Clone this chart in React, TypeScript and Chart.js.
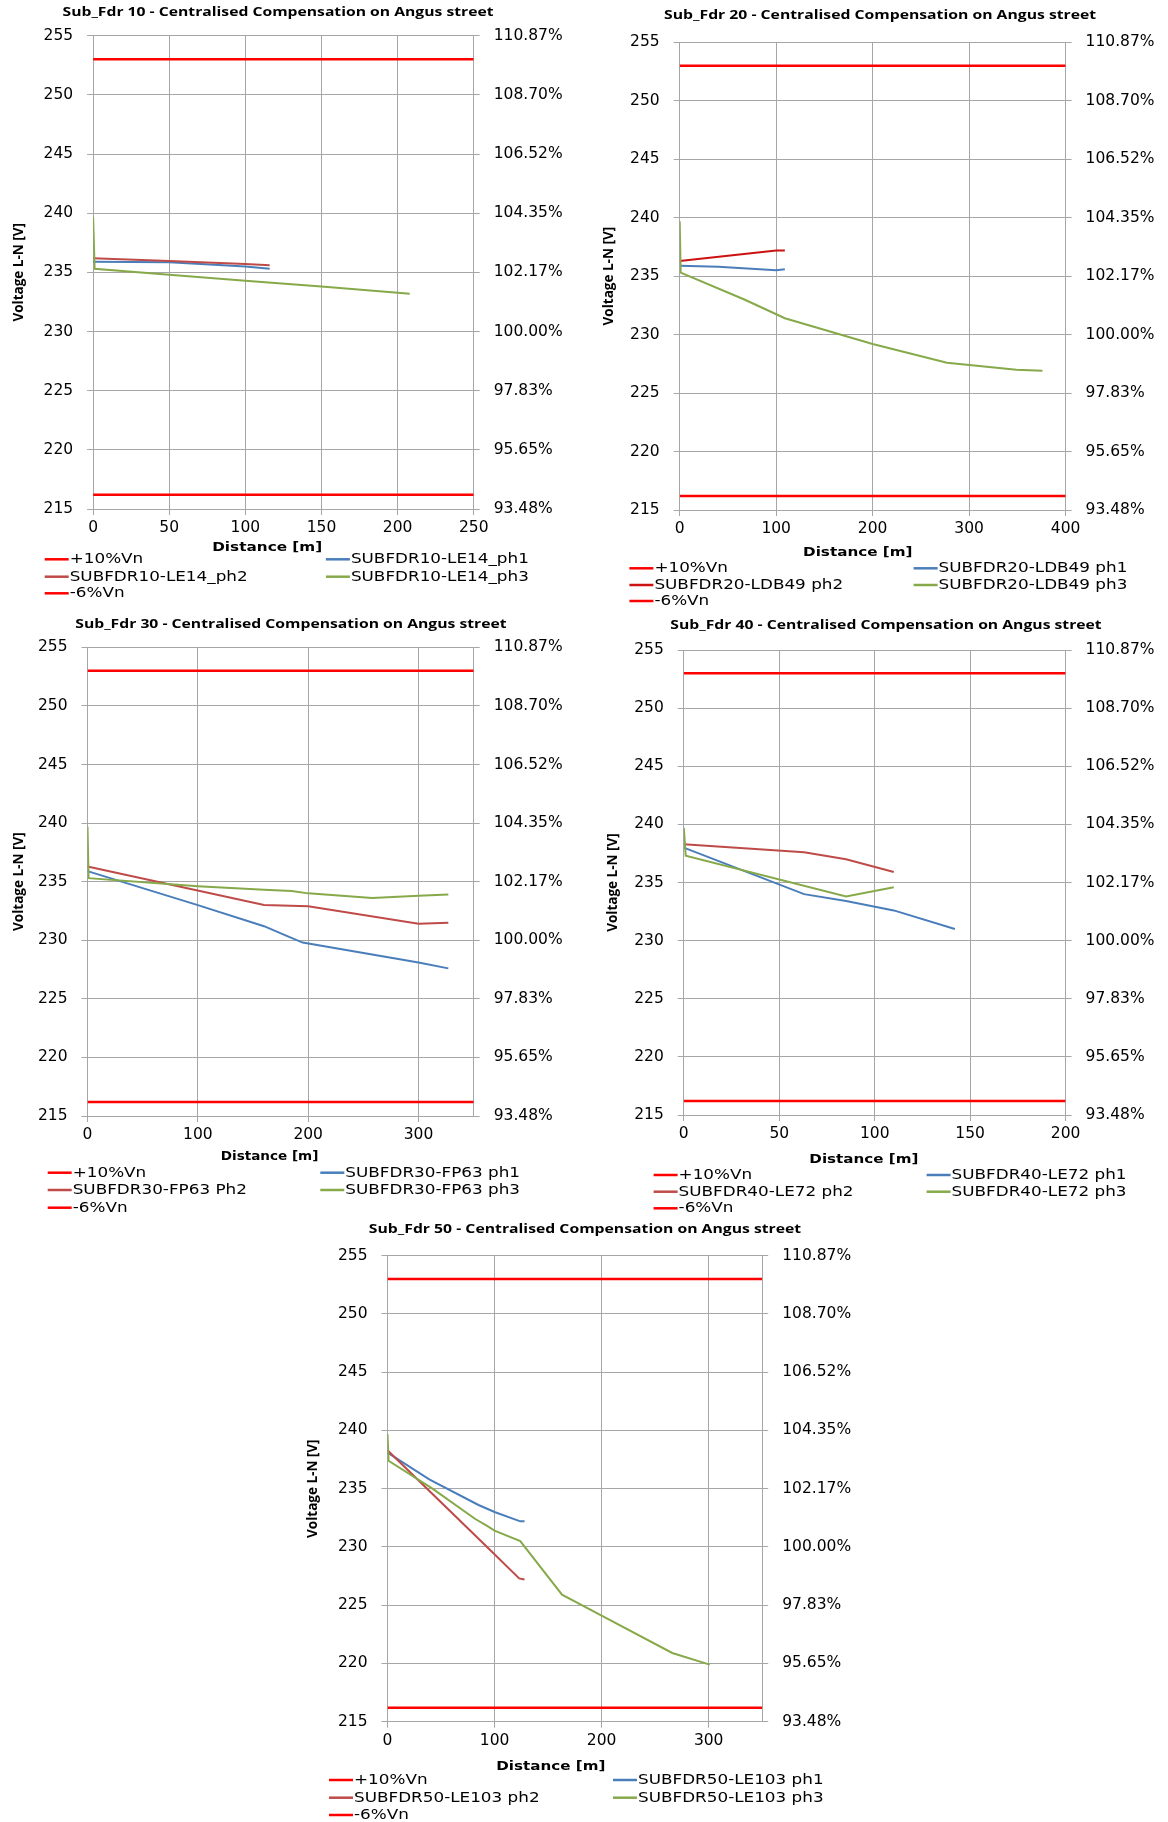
import React, { useEffect, useRef } from "react";
import { Chart, registerables } from "chart.js";

Chart.register(...registerables);

// ---------- common values ----------
const VN = 230;
const UPPER_LIMIT = 253; // +10% Vn
const LOWER_LIMIT = 216.2; // -6% Vn
const Y_MIN = 215;
const Y_MAX = 255;
const Y_STEP = 5;

// ---------- Sub_Fdr 10 ----------
const F10_TITLE = "Sub_Fdr 10 - Centralised Compensation on Angus street";
const F10_NAMES = ["SUBFDR10-LE14_ph1", "SUBFDR10-LE14_ph2", "SUBFDR10-LE14_ph3"];
const F10_X_MAX = 250;
const F10_X_STEP = 50;
const F10_PH1_D = [0, 50, 100, 116];
const F10_PH1_V = [235.9, 235.85, 235.5, 235.3];
const F10_PH2_D = [0, 50, 100, 116];
const F10_PH2_V = [236.2, 235.95, 235.7, 235.6];
const F10_PH3_D = [0, 1, 50, 100, 150, 208];
const F10_PH3_V = [239.7, 235.3, 234.8, 234.3, 233.8, 233.2];

// ---------- Sub_Fdr 20 ----------
const F20_TITLE = "Sub_Fdr 20 - Centralised Compensation on Angus street";
const F20_NAMES = ["SUBFDR20-LDB49 ph1", "SUBFDR20-LDB49 ph2", "SUBFDR20-LDB49 ph3"];
const F20_X_MAX = 400;
const F20_X_STEP = 100;
const F20_PH1_D = [0, 40, 100, 109];
const F20_PH1_V = [235.9, 235.8, 235.5, 235.6];
const F20_PH2_D = [0, 100, 109];
const F20_PH2_V = [236.3, 237.2, 237.2];
const F20_PH3_D = [0, 1, 67, 109, 200, 277, 349, 376];
const F20_PH3_V = [239.7, 235.3, 233.0, 231.4, 229.2, 227.6, 227.0, 226.9];

// ---------- Sub_Fdr 30 ----------
const F30_TITLE = "Sub_Fdr 30 - Centralised Compensation on Angus street";
const F30_NAMES = ["SUBFDR30-FP63 ph1", "SUBFDR30-FP63 Ph2", "SUBFDR30-FP63 ph3"];
const F30_X_MAX = 350;
const F30_X_STEP = 100;
const F30_PH1_D = [0, 100, 160, 180, 195, 300, 327];
const F30_PH1_V = [235.9, 233.0, 231.2, 230.4, 229.8, 228.1, 227.6];
const F30_PH2_D = [0, 160, 200, 300, 327];
const F30_PH2_V = [236.3, 233.0, 232.9, 231.4, 231.5];
const F30_PH3_D = [0, 1, 100, 160, 185, 200, 258, 300, 327];
const F30_PH3_V = [239.7, 235.3, 234.6, 234.3, 234.2, 234.0, 233.6, 233.8, 233.9];

// ---------- Sub_Fdr 40 ----------
const F40_TITLE = "Sub_Fdr 40 - Centralised Compensation on Angus street";
const F40_NAMES = ["SUBFDR40-LE72 ph1", "SUBFDR40-LE72 ph2", "SUBFDR40-LE72 ph3"];
const F40_X_MAX = 200;
const F40_X_STEP = 50;
const F40_PH1_D = [0, 63, 85, 110, 142];
const F40_PH1_V = [238.0, 234.0, 233.4, 232.6, 231.0];
const F40_PH2_D = [0, 63, 85, 110];
const F40_PH2_V = [238.3, 237.6, 237.0, 235.9];
const F40_PH3_D = [0, 1, 85, 110];
const F40_PH3_V = [239.7, 237.3, 233.8, 234.6];

// ---------- Sub_Fdr 50 ----------
const F50_TITLE = "Sub_Fdr 50 - Centralised Compensation on Angus street";
const F50_NAMES = ["SUBFDR50-LE103 ph1", "SUBFDR50-LE103 ph2", "SUBFDR50-LE103 ph3"];
const F50_X_MAX = 350;
const F50_X_STEP = 100;
const F50_PH1_D = [0, 39, 85, 100, 124, 128];
const F50_PH1_V = [238.1, 235.8, 233.6, 233.0, 232.2, 232.2];
const F50_PH2_D = [0, 93, 123, 128];
const F50_PH2_V = [238.3, 230.0, 227.3, 227.2];
const F50_PH3_D = [0, 1, 42, 82, 93, 100, 124, 163, 200, 266, 301];
const F50_PH3_V = [239.7, 237.4, 235.0, 232.4, 231.8, 231.4, 230.5, 225.9, 224.1, 220.9, 219.9];

const UPPER_NAME = "+10%Vn";
const LOWER_NAME = "-6%Vn";
const X_TITLE = "Distance [m]";
const Y_TITLE = "Voltage L-N [V]";

// ---------- styles ----------
const LIMIT_COLOR = "#FF0000";
const PH1_COLOR = "#4A7EBB";
const PH2_COLOR = "#BE4B48";
const PH2_COLOR_ALT = "#CC1111";
const PH3_COLOR = "#86A94A";
const GRID_COLOR = "#A6A6A6";
const TICK_FONT = { family: "DejaVu Sans", size: 15.5 };
const LEGEND_STRETCH = 1.2;

type Series = { label: string; d: number[]; v: number[]; color: string };
type Layout = {
  box: { x: number; y: number; w: number; h: number };
  plot: { l: number; t: number; r: number; b: number };
  title: { x: number; y: number; w: number };
  xTitle: { x: number; y: number; w: number };
  yTitleX: number;
  legend: { c1: number; c2: number; rows: number[] };
};
type Cfg = {
  title: string;
  xMax: number;
  xStep: number;
  series: Series[];
  layout: Layout;
};

const CHARTS: Cfg[] = [
  {
    title: F10_TITLE,
    xMax: F10_X_MAX,
    xStep: F10_X_STEP,
    series: [
      { label: F10_NAMES[0], d: F10_PH1_D, v: F10_PH1_V, color: PH1_COLOR },
      { label: F10_NAMES[1], d: F10_PH2_D, v: F10_PH2_V, color: PH2_COLOR },
      { label: F10_NAMES[2], d: F10_PH3_D, v: F10_PH3_V, color: PH3_COLOR },
    ],
    layout: {
      box: { x: 0, y: 0, w: 584, h: 608 },
      plot: { l: 93.1, t: 35.7, r: 473.7, b: 509 },
      title: { x: 278, y: 12.7, w: 431 },
      xTitle: { x: 267.2, y: 548, w: 110 },
      yTitleX: 20.5,
      legend: { c1: 44.7, c2: 325.9, rows: [559.3, 576.7, 593.3] },
    },
  },
  {
    title: F20_TITLE,
    xMax: F20_X_MAX,
    xStep: F20_X_STEP,
    series: [
      { label: F20_NAMES[0], d: F20_PH1_D, v: F20_PH1_V, color: PH1_COLOR },
      { label: F20_NAMES[1], d: F20_PH2_D, v: F20_PH2_V, color: PH2_COLOR_ALT },
      { label: F20_NAMES[2], d: F20_PH3_D, v: F20_PH3_V, color: PH3_COLOR },
    ],
    layout: {
      box: { x: 584, y: 0, w: 584, h: 610 },
      plot: { l: 679.7, t: 42.3, r: 1065.6, b: 510 },
      title: { x: 880.1, y: 15.7, w: 432 },
      xTitle: { x: 857.8, y: 552.7, w: 109.5 },
      yTitleX: 610,
      legend: { c1: 629.4, c2: 913.6, rows: [568.3, 585, 601] },
    },
  },
  {
    title: F30_TITLE,
    xMax: F30_X_MAX,
    xStep: F30_X_STEP,
    series: [
      { label: F30_NAMES[0], d: F30_PH1_D, v: F30_PH1_V, color: PH1_COLOR },
      { label: F30_NAMES[1], d: F30_PH2_D, v: F30_PH2_V, color: PH2_COLOR },
      { label: F30_NAMES[2], d: F30_PH3_D, v: F30_PH3_V, color: PH3_COLOR },
    ],
    layout: {
      box: { x: 0, y: 610, w: 584, h: 608 },
      plot: { l: 87.5, t: 647.3, r: 473.7, b: 1116 },
      title: { x: 290.9, y: 624, w: 431.3 },
      xTitle: { x: 269.6, y: 1156.7, w: 97.6 },
      yTitleX: 20.5,
      legend: { c1: 47.7, c2: 320.3, rows: [1172.7, 1190, 1207.7] },
    },
  },
  {
    title: F40_TITLE,
    xMax: F40_X_MAX,
    xStep: F40_X_STEP,
    series: [
      { label: F40_NAMES[0], d: F40_PH1_D, v: F40_PH1_V, color: PH1_COLOR },
      { label: F40_NAMES[1], d: F40_PH2_D, v: F40_PH2_V, color: PH2_COLOR },
      { label: F40_NAMES[2], d: F40_PH3_D, v: F40_PH3_V, color: PH3_COLOR },
    ],
    layout: {
      box: { x: 584, y: 610, w: 584, h: 608 },
      plot: { l: 683.8, t: 650, r: 1065.6, b: 1115 },
      title: { x: 886, y: 625, w: 431.3 },
      xTitle: { x: 863.9, y: 1159.3, w: 109.1 },
      yTitleX: 613.8,
      legend: { c1: 653.6, c2: 926.6, rows: [1175, 1191.7, 1208.3] },
    },
  },
  {
    title: F50_TITLE,
    xMax: F50_X_MAX,
    xStep: F50_X_STEP,
    series: [
      { label: F50_NAMES[0], d: F50_PH1_D, v: F50_PH1_V, color: PH1_COLOR },
      { label: F50_NAMES[1], d: F50_PH2_D, v: F50_PH2_V, color: PH2_COLOR },
      { label: F50_NAMES[2], d: F50_PH3_D, v: F50_PH3_V, color: PH3_COLOR },
    ],
    layout: {
      box: { x: 280, y: 1218, w: 600, h: 604 },
      plot: { l: 387.5, t: 1255.7, r: 762.2, b: 1721.7 },
      title: { x: 585, y: 1229.3, w: 432.4 },
      xTitle: { x: 550.8, y: 1766.7, w: 109.1 },
      yTitleX: 314.4,
      legend: { c1: 329, c2: 613, rows: [1780, 1797.7, 1815] },
    },
  },
];

const RIGHT_AXIS_W = 100;
const X_AXIS_H = 40;
const TICK_LEN = 6;

function fillStretched(
  ctx: CanvasRenderingContext2D,
  text: string,
  x: number,
  y: number,
  font: string,
  align: CanvasTextAlign,
  opts: { width?: number; stretch?: number }
) {
  ctx.font = font;
  const w = ctx.measureText(text).width;
  const sx = opts.width ? opts.width / w : opts.stretch || 1;
  ctx.save();
  ctx.translate(x, y);
  ctx.scale(sx, 1);
  ctx.textAlign = align;
  ctx.textBaseline = "middle";
  ctx.fillText(text, 0, 0);
  ctx.restore();
}

const overlayPlugin = {
  id: "overlay",
  afterDraw(chart: any, _args: any, opts: any) {
    const ctx = chart.ctx as CanvasRenderingContext2D;
    const { title, titlePos, xTitle, xTitlePos, legendItems, legendPos } = opts;
    ctx.save();
    ctx.fillStyle = "#000";
    // chart title
    fillStretched(ctx, title, titlePos.x, titlePos.y, "bold 13px 'Open Sans'", "center", {
      width: titlePos.w,
    });
    // x axis title
    fillStretched(ctx, xTitle, xTitlePos.x, xTitlePos.y, "bold 13px 'DejaVu Sans'", "center", {
      width: xTitlePos.w,
    });
    // legend (2-column grid)
    legendItems.forEach((it: any, i: number) => {
      const col = i % 2;
      const row = Math.floor(i / 2);
      const x = col === 0 ? legendPos.c1 : legendPos.c2;
      const y = legendPos.rows[row];
      ctx.strokeStyle = it.color;
      ctx.lineWidth = it.width;
      ctx.beginPath();
      ctx.moveTo(x, y);
      ctx.lineTo(x + 24, y);
      ctx.stroke();
      ctx.fillStyle = "#000";
      fillStretched(ctx, it.label, x + 25, y + 0.5, "14px 'DejaVu Sans'", "left", {
        stretch: LEGEND_STRETCH,
      });
    });
    ctx.restore();
  },
};

function VoltageChart({ cfg }: { cfg: Cfg }) {
  const ref = useRef<HTMLCanvasElement | null>(null);
  const { box } = cfg.layout;

  useEffect(() => {
    if (!ref.current) return;
    const L = cfg.layout;
    const rx = (v: number) => v - L.box.x;
    const ry = (v: number) => v - L.box.y;
    const leftW = L.plot.l - L.box.x;
    const padTop = L.plot.t - L.box.y;
    const padRight = L.box.x + L.box.w - L.plot.r - RIGHT_AXIS_W;
    const padBottom = L.box.y + L.box.h - L.plot.b - X_AXIS_H;

    const limitData = (y: number) => [
      { x: 0, y },
      { x: cfg.xMax, y },
    ];
    const series = cfg.series.map((s, k) => ({
      label: s.label,
      data: s.d.map((x, i) => ({ x, y: s.v[i] })),
      borderColor: s.color,
      backgroundColor: s.color,
      borderWidth: 2,
      pointRadius: 0,
      tension: 0,
      fill: false,
      order: 3 - k,
    }));
    const datasets = [
      {
        label: UPPER_NAME,
        data: limitData(UPPER_LIMIT),
        borderColor: LIMIT_COLOR,
        backgroundColor: LIMIT_COLOR,
        borderWidth: 2.5,
        pointRadius: 0,
        fill: false,
        order: 5,
      },
      ...series,
      {
        label: LOWER_NAME,
        data: limitData(LOWER_LIMIT),
        borderColor: LIMIT_COLOR,
        backgroundColor: LIMIT_COLOR,
        borderWidth: 2.5,
        pointRadius: 0,
        fill: false,
        order: 5,
      },
    ];
    const legendItems = [
      { label: UPPER_NAME, color: LIMIT_COLOR, width: 2.5 },
      ...cfg.series.map((s) => ({ label: s.label, color: s.color, width: 2.5 })),
      { label: LOWER_NAME, color: LIMIT_COLOR, width: 2.5 },
    ];

    const chart = new Chart(ref.current, {
      type: "line",
      data: { datasets: datasets as any },
      options: {
        responsive: false,
        animation: false,
        events: [],
        layout: { padding: { left: 0, top: padTop, right: padRight, bottom: padBottom } },
        plugins: {
          legend: { display: false },
          title: { display: false },
          tooltip: { enabled: false },
          overlay: {
            title: cfg.title,
            titlePos: { x: rx(L.title.x), y: ry(L.title.y), w: L.title.w },
            xTitle: X_TITLE,
            xTitlePos: { x: rx(L.xTitle.x), y: ry(L.xTitle.y), w: L.xTitle.w },
            legendItems,
            legendPos: { c1: rx(L.legend.c1), c2: rx(L.legend.c2), rows: L.legend.rows.map(ry) },
          },
        } as any,
        scales: {
          x: {
            type: "linear",
            min: 0,
            max: cfg.xMax,
            ticks: { stepSize: cfg.xStep, includeBounds: false, padding: 4, color: "#000", font: TICK_FONT, maxRotation: 0 },
            grid: { color: GRID_COLOR, lineWidth: 1, tickLength: TICK_LEN, drawTicks: true },
            border: { color: GRID_COLOR, width: 1 },
            afterFit: (s: any) => {
              s.height = X_AXIS_H;
            },
          },
          y: {
            type: "linear",
            position: "left",
            min: Y_MIN,
            max: Y_MAX,
            ticks: { stepSize: Y_STEP, padding: 14, color: "#000", font: TICK_FONT },
            grid: { color: GRID_COLOR, lineWidth: 1, tickLength: TICK_LEN, drawTicks: true },
            border: { color: GRID_COLOR, width: 1 },
            title: {
              display: true,
              text: Y_TITLE,
              color: "#000",
              font: { family: "Open Sans", weight: "bold", size: 13.5 },
              padding: { top: rx(L.yTitleX) - 9.2, bottom: 0 },
            },
            afterFit: (s: any) => {
              s.width = leftW;
            },
          },
          y2: {
            type: "linear",
            position: "right",
            min: Y_MIN,
            max: Y_MAX,
            ticks: {
              stepSize: Y_STEP,
              padding: 14,
              color: "#000",
              font: TICK_FONT,
              callback: (v: any) => ((Number(v) / VN) * 100).toFixed(2) + "%",
            },
            grid: { drawOnChartArea: false, color: GRID_COLOR, tickLength: TICK_LEN, drawTicks: true },
            border: { color: GRID_COLOR, width: 1 },
            afterFit: (s: any) => {
              s.width = RIGHT_AXIS_W;
            },
          },
        } as any,
      },
      plugins: [overlayPlugin as any],
    });
    return () => chart.destroy();
  }, [cfg]);

  return (
    <canvas
      ref={ref}
      width={box.w}
      height={box.h}
      style={{ position: "absolute", left: box.x, top: box.y, width: box.w, height: box.h }}
    />
  );
}

export default function App() {
  return (
    <div
      style={{
        position: "absolute",
        left: 0,
        top: 0,
        width: 1168,
        height: 1822,
        overflow: "hidden",
        background: "#fff",
      }}
    >
      {CHARTS.map((c, i) => (
        <VoltageChart key={i} cfg={c} />
      ))}
    </div>
  );
}
